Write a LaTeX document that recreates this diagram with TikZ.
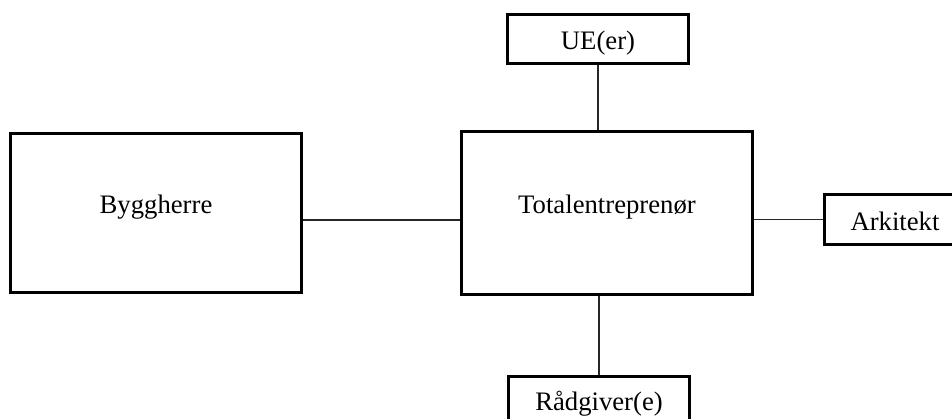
\documentclass[tikz,border=0pt]{standalone}
\usepackage{fontspec}
\setmainfont{Liberation Serif}
\begin{document}
\begin{tikzpicture}[x=1pt,y=-1pt,
  box/.style={draw=black,line width=2pt,fill=white,inner sep=0pt},
  lbl/.style={anchor=base,inner sep=0pt,font=\fontsize{26.7}{32}\selectfont},
  link/.style={draw=black!85,line width=1.1pt}]
  \useasboundingbox (0,0) rectangle (952,418);
  \clip (0,0) rectangle (952,418);

  % boxes
  \node[box,minimum width=290pt,minimum height=158pt] (bygg)  at (156,213)   {};
  \node[box,minimum width=290pt,minimum height=162pt] (total) at (607,213)   {};
  \node[box,minimum width=180pt,minimum height=48pt]  (ue)    at (598,39)    {};
  \node[box,minimum width=140pt,minimum height=49pt]  (ark)   at (895,219.5) {};
  \node[box,minimum width=180pt,minimum height=48pt]  (rad)   at (599,401)   {};

  % connectors
  \draw[link] ([yshift=-7pt]bygg.east) -- ([yshift=-7pt]total.west);
  \draw[link] (ue.south) -- (ue.south |- total.north);
  \draw[link] (ark.west) -- (ark.west -| total.east);
  \draw[link] (rad.north) -- (rad.north |- total.south);

  % redraw borders over connector ends
  \foreach \n in {bygg,total,ue,ark,rad}
    \draw[line width=2pt] (\n.north west) rectangle (\n.south east);

  % labels
  \node[lbl] (bygg-t)  at (156,213) {Byggherre};
  \node[lbl] (total-t) at (607,213) {Totalentreprenør};
  \node[lbl] (ue-t)    at (598,49)  {UE(er)};
  \node[lbl] (ark-t)   at (895,230) {Arkitekt};
  \node[lbl] (rad-t)   at (599,410) {Rådgiver(e)};
\end{tikzpicture}
\end{document}
